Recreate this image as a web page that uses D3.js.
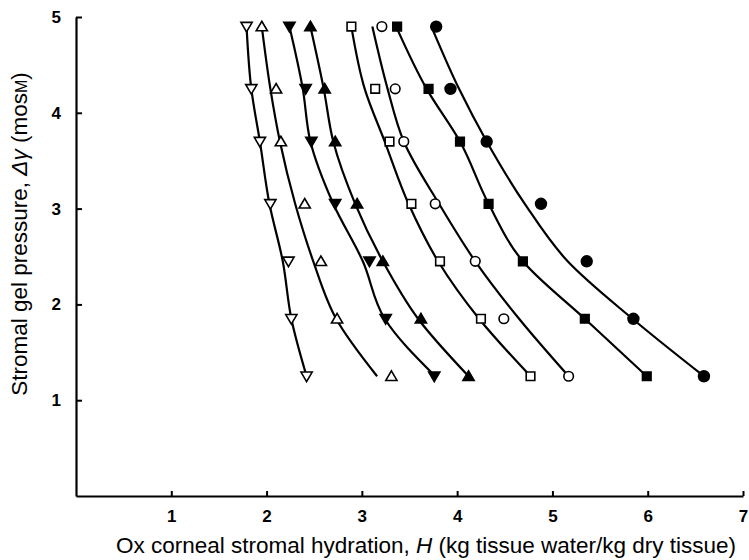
<!DOCTYPE html>
<html>
<head>
<meta charset="utf-8">
<script src="https://cdn.jsdelivr.net/npm/d3@7"></script>
<style>
  html, body { margin: 0; padding: 0; background: #fff; }
  svg { display: block; }
  text { font-family: "Liberation Sans", Arial, Helvetica, sans-serif; fill: #000; }
</style>
</head>
<body>
<svg id="chart" width="749" height="560"></svg>
<script>
// Gel pressure levels at which hydration was measured (mosM)
const pressureLevels = [4.9, 4.25, 3.7, 3.05, 2.45, 1.85, 1.25];

// Measured hydration H (kg water / kg dry tissue), one array per preparation
const hOpenDown   = [1.79, 1.84, 1.93, 2.04, 2.23, 2.26, 2.42];
const hOpenUp     = [1.95, 2.10, 2.15, 2.40, 2.57, 2.74, 3.31];
const hFilledDown = [2.24, 2.41, 2.47, 2.72, 3.08, 3.25, 3.76];
const hFilledUp   = [2.46, 2.61, 2.72, 2.95, 3.22, 3.62, 4.12];
const hOpenSquare = [2.89, 3.14, 3.29, 3.52, 3.82, 4.25, 4.77];
const hOpenCircle = [3.21, 3.35, 3.44, 3.77, 4.19, 4.49, 5.17];
const hFilledSquare = [3.37, 3.70, 4.03, 4.33, 4.69, 5.34, 5.99];
const hFilledCircle = [3.78, 3.93, 4.31, 4.88, 5.36, 5.85, 6.59];

// Fitted curves: hydration on each curve at the same pressure levels
const fitOpenDown   = [1.79, 1.84, 1.93, 2.03, 2.17, 2.26, 2.42];
const fitOpenUp     = [1.95, 2.04, 2.14, 2.30, 2.49, 2.73, 3.16];
const fitFilledDown = [2.24, 2.38, 2.46, 2.70, 3.01, 3.24, 3.77];
const fitFilledUp   = [2.46, 2.60, 2.70, 2.93, 3.22, 3.59, 4.12];
const fitOpenSquare = [2.89, 3.03, 3.24, 3.49, 3.80, 4.23, 4.77];
const fitOpenCircle = [3.11, 3.27, 3.44, 3.81, 4.19, 4.65, 5.17];
const fitFilledSquare = [3.36, 3.68, 4.03, 4.33, 4.69, 5.34, 5.99];
const fitFilledCircle = [3.73, 4.02, 4.31, 4.71, 5.16, 5.84, 6.59];

// Axis ticks
const xTicks = [1, 2, 3, 4, 5, 6, 7];
const yTicks = [1, 2, 3, 4, 5];

const series = [
  { shape: "triDown", filled: false, h: hOpenDown,     fit: fitOpenDown },
  { shape: "triUp",   filled: false, h: hOpenUp,       fit: fitOpenUp },
  { shape: "triDown", filled: true,  h: hFilledDown,   fit: fitFilledDown },
  { shape: "triUp",   filled: true,  h: hFilledUp,     fit: fitFilledUp },
  { shape: "square",  filled: false, h: hOpenSquare,   fit: fitOpenSquare },
  { shape: "circle",  filled: false, h: hOpenCircle,   fit: fitOpenCircle },
  { shape: "square",  filled: true,  h: hFilledSquare, fit: fitFilledSquare },
  { shape: "circle",  filled: true,  h: hFilledCircle, fit: fitFilledCircle }
];

const svg = d3.select("#chart");
const x = d3.scaleLinear().domain([0, 7]).range([76, 743]);
const y = d3.scaleLinear().domain([0, 5]).range([496, 17]);

// Axes: ticks pointing inwards, integer labels, no zero labels
const xAxis = d3.axisBottom(x).tickValues(xTicks).tickFormat(d3.format("d"))
  .tickSizeInner(-5).tickSizeOuter(0).tickPadding(14);
const yAxis = d3.axisLeft(y).tickValues(yTicks).tickFormat(d3.format("d"))
  .tickSizeInner(-6).tickSizeOuter(0).tickPadding(15);

const gx = svg.append("g").attr("transform", `translate(0,${y(0)})`).call(xAxis);
const gy = svg.append("g").attr("transform", `translate(${x(0)},0)`).call(yAxis);
[gx, gy].forEach(g => {
  g.select(".domain").attr("stroke", "#000").attr("stroke-width", 2.2);
  g.selectAll(".tick line").attr("stroke", "#000").attr("stroke-width", 2);
  g.selectAll(".tick text")
    .style("font-family", '"Liberation Sans", Arial, sans-serif')
    .style("font-size", "17px").style("font-weight", "bold").attr("fill", "#000");
});
gx.selectAll(".tick text").attr("dy", "0.71em");

// Fitted curves
const line = d3.line()
  .x(d => x(d[0]))
  .y(d => y(d[1]))
  .curve(d3.curveMonotoneY);

svg.append("g").selectAll("path")
  .data(series)
  .join("path")
  .attr("d", s => line(s.fit.map((h, i) => [h, pressureLevels[i]])))
  .attr("fill", "none")
  .attr("stroke", "#000")
  .attr("stroke-width", 2.2);

// Marker shapes
function markerPath(shape) {
  const t = 5.6, sq = 4.3;
  switch (shape) {
    case "triUp":   return `M0,${-t * 0.95}L${t},${t * 0.75}L${-t},${t * 0.75}Z`;
    case "triDown": return `M0,${t * 0.95}L${t},${-t * 0.75}L${-t},${-t * 0.75}Z`;
    case "square":  return `M${-sq},${-sq}H${sq}V${sq}H${-sq}Z`;
    default: return null;
  }
}

const markers = svg.append("g");
series.forEach(s => {
  const pts = s.h.map((h, i) => [h, pressureLevels[i]]);
  const g = markers.append("g");
  if (s.shape === "circle") {
    g.selectAll("circle").data(pts).join("circle")
      .attr("cx", d => x(d[0])).attr("cy", d => y(d[1]))
      .attr("r", s.filled ? 5.4 : 4.8)
      .attr("fill", s.filled ? "#000" : "#fff")
      .attr("stroke", "#000").attr("stroke-width", 1.6);
  } else {
    g.selectAll("path").data(pts).join("path")
      .attr("transform", d => `translate(${x(d[0])},${y(d[1])})`)
      .attr("d", markerPath(s.shape))
      .attr("fill", s.filled ? "#000" : "#fff")
      .attr("stroke", "#000").attr("stroke-width", 1.6)
      .attr("stroke-linejoin", "miter");
  }
});

// Axis titles
const xTitle = svg.append("text")
  .attr("x", 426).attr("y", 553)
  .attr("text-anchor", "middle")
  .style("font-size", "22.5px");
xTitle.append("tspan").text("Ox corneal stromal hydration, ");
xTitle.append("tspan").style("font-style", "italic").text("H");
xTitle.append("tspan").text(" (kg tissue water/kg dry tissue)");

const yTitle = svg.append("text")
  .attr("transform", "translate(27,234) rotate(-90)")
  .attr("text-anchor", "middle")
  .style("font-size", "22.5px");
yTitle.append("tspan").text("Stromal gel pressure, ");
yTitle.append("tspan").style("font-style", "italic").text("Δγ");
yTitle.append("tspan").text(" (mos");
yTitle.append("tspan").style("font-size", "16px").text("M");
yTitle.append("tspan").text(")");
</script>
</body>
</html>
